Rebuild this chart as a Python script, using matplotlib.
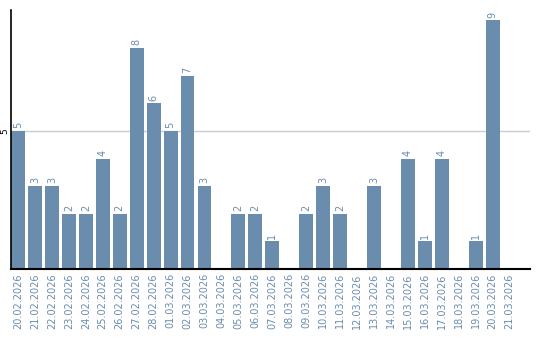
import matplotlib
matplotlib.use('Agg')
import matplotlib.pyplot as plt

dates = ['20.02.2026', '21.02.2026', '22.02.2026', '23.02.2026', '24.02.2026',
         '25.02.2026', '26.02.2026', '27.02.2026', '28.02.2026', '01.03.2026',
         '02.03.2026', '03.03.2026', '04.03.2026', '05.03.2026', '06.03.2026',
         '07.03.2026', '08.03.2026', '09.03.2026', '10.03.2026', '11.03.2026',
         '12.03.2026', '13.03.2026', '14.03.2026', '15.03.2026', '16.03.2026',
         '17.03.2026', '18.03.2026', '19.03.2026', '20.03.2026', '21.03.2026']
counts = [5, 3, 3, 2, 2, 4, 2, 8, 6, 5, 7, 3, 0, 2, 2, 1, 0, 2, 3, 2,
          0, 3, 0, 4, 1, 4, 0, 1, 9, 0]

bar_color = '#6a8cad'

fig = plt.figure(figsize=(5.4, 3.4), dpi=100)
ax = fig.add_axes([11/540, 71/340, 519/540, 259/340])

x = list(range(len(dates)))
ax.bar(x, counts, width=0.82, color=bar_color, zorder=2)
ax.axhline(5, color='#cccccc', lw=1, zorder=1)

for i, v in enumerate(counts):
    if v > 0:
        ax.text(i, v + 0.1, str(v), rotation=90, ha='center', va='bottom',
                fontsize=7, color=bar_color)

ax.set_xlim(-0.41, 30.2)
ax.set_ylim(0, 9.38)
ax.set_xticks(x)
ax.set_xticklabels(dates, rotation=90, fontsize=7, color=bar_color)
ax.set_yticks([5])
ax.set_yticklabels(['5'], rotation=90, fontsize=6.5, va='center')
ax.tick_params(axis='x', length=0, pad=3)
ax.tick_params(axis='y', length=0, pad=1)

for s in ['top', 'right']:
    ax.spines[s].set_visible(False)
ax.spines['left'].set_linewidth(1.2)
ax.spines['bottom'].set_linewidth(1.5)

fig.savefig('out.png', dpi=100)
